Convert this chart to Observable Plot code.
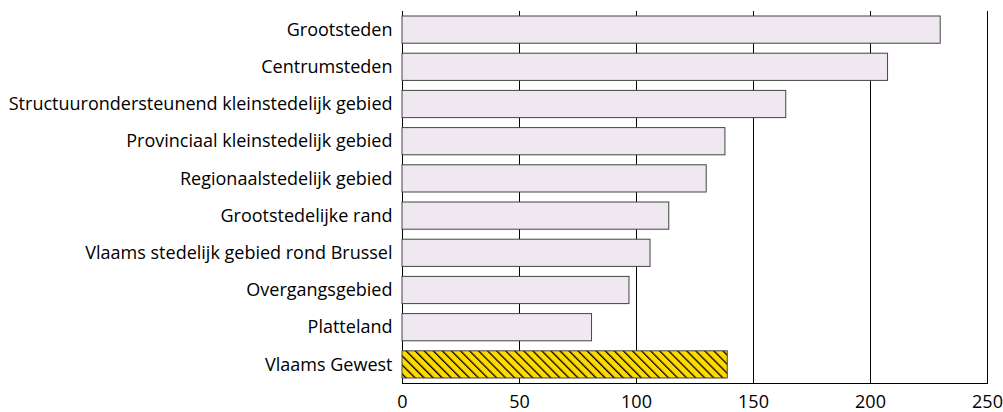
<!DOCTYPE html>
<html>
<head>
<meta charset="utf-8">
<script src="https://cdn.jsdelivr.net/npm/d3@7"></script>
<script src="https://cdn.jsdelivr.net/npm/@observablehq/plot@0.6"></script>
<style>
  html, body { margin: 0; padding: 0; background: white; }
  svg { display: block; }
</style>
</head>
<body>
<div id="chart"></div>
<script>
const categories = [
  "Grootsteden",
  "Centrumsteden",
  "Structuurondersteunend kleinstedelijk gebied",
  "Provinciaal kleinstedelijk gebied",
  "Regionaalstedelijk gebied",
  "Grootstedelijke rand",
  "Vlaams stedelijk gebied rond Brussel",
  "Overgangsgebied",
  "Platteland",
  "Vlaams Gewest"
];
const values = [230, 207.5, 164, 138, 130, 114, 106, 97, 81, 139];
const totalCategory = "Vlaams Gewest";
const xTicks = [0, 50, 100, 150, 200, 250];
const gridTicks = [50, 100, 150, 200, 250];

const data = categories.map((c, i) => ({category: c, value: values[i]}));
const regions = data.filter(d => d.category !== totalCategory);
const total = data.filter(d => d.category === totalCategory);

const chart = Plot.plot({
  width: 1003,
  height: 412,
  marginLeft: 402,
  marginRight: 16,
  marginTop: 11,
  marginBottom: 29,
  style: {fontFamily: "'Open Sans', sans-serif", fontSize: "18px", color: "black", background: "white"},
  x: {domain: [0, 250], ticks: xTicks, tickSize: 0, tickPadding: 12, line: true, label: null},
  y: {domain: categories, padding: 0, round: false, tickSize: 0, tickPadding: 10, line: true, label: null},
  marks: [
    Plot.ruleX(gridTicks, {stroke: "black", strokeWidth: 1}),
    Plot.barX(regions, {x: "value", y: "category", fill: "#EFE8F1", stroke: "#444", strokeWidth: 1, insetTop: 5, insetBottom: 5}),
    Plot.barX(total, {x: "value", y: "category", fill: "url(#hatch)", stroke: "#444", strokeWidth: 1, insetTop: 5, insetBottom: 5})
  ]
});

const ns = "http://www.w3.org/2000/svg";
const defs = document.createElementNS(ns, "defs");
defs.innerHTML = `<pattern id="hatch" patternUnits="userSpaceOnUse" width="6.4" height="6.4" patternTransform="rotate(-45)">
  <rect width="6.4" height="6.4" fill="#FFDA00"></rect>
  <line x1="0" y1="0" x2="0" y2="6.4" stroke="black" stroke-width="2.6"></line>
</pattern>`;
chart.insertBefore(defs, chart.firstChild);
chart.querySelectorAll("g[aria-label='x-axis']").forEach(g => g.style.fontSize = "16px");
document.getElementById("chart").appendChild(chart);
</script>
</body>
</html>
